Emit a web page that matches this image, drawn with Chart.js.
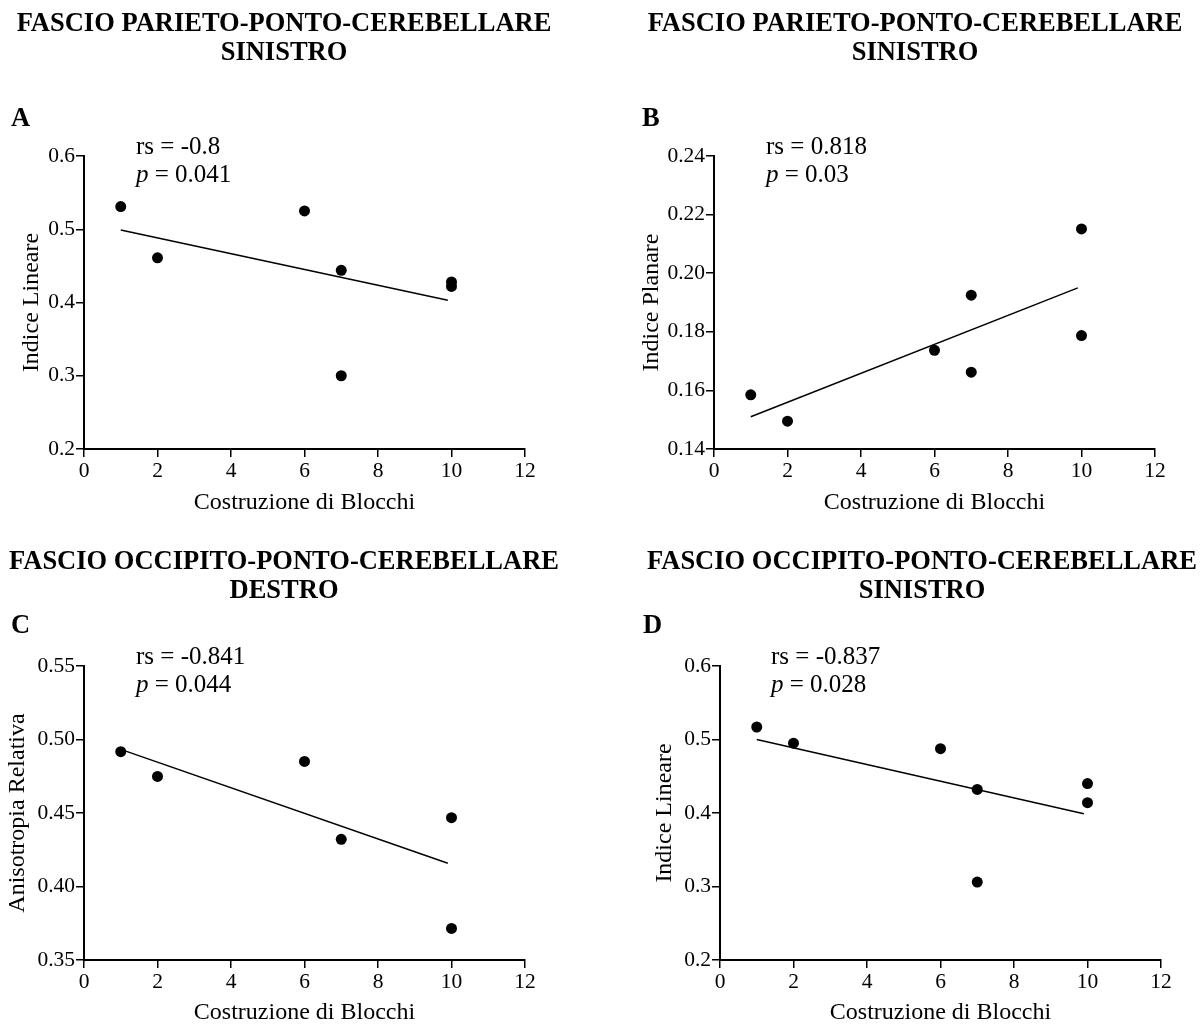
<!DOCTYPE html>
<html>
<head>
<meta charset="utf-8">
<script src="https://cdn.jsdelivr.net/npm/chart.js@4/dist/chart.umd.min.js"></script>
<style>
  html, body { margin: 0; padding: 0; background: #fff; }
  #wrap { position: relative; width: 1203px; height: 1025px; background: #fff; }
  #wrap canvas { position: absolute; left: 0; top: 0; }
</style>
</head>
<body>
<div id="wrap">
  <canvas id="cA" width="1203" height="1025"></canvas>
  <canvas id="cB" width="1203" height="1025"></canvas>
  <canvas id="cC" width="1203" height="1025"></canvas>
  <canvas id="cD" width="1203" height="1025"></canvas>
</div>
<script>
// ---------------- DATA ----------------
const xTicks = [0, 2, 4, 6, 8, 10, 12];
const xTickLabels = ['0', '2', '4', '6', '8', '10', '12'];
const xTitle = 'Costruzione di Blocchi';

// Panel A
const titleA = ['FASCIO PARIETO-PONTO-CEREBELLARE', 'SINISTRO'];
const yTitleA = 'Indice Lineare';
const xA = [1, 2, 6, 7, 7, 10, 10];
const yA = [0.531, 0.461, 0.525, 0.444, 0.300, 0.428, 0.422];
const fitXA = [1, 9.9];
const fitYA = [0.499, 0.403];
const yTicksA = [0.2, 0.3, 0.4, 0.5, 0.6];
const yTickLabelsA = ['0.2', '0.3', '0.4', '0.5', '0.6'];
const statsA = ['rs = -0.8', '0.041'];

// Panel B
const titleB = ['FASCIO PARIETO-PONTO-CEREBELLARE', 'SINISTRO'];
const yTitleB = 'Indice Planare';
const xB = [1, 2, 6, 7, 7, 10, 10];
const yB = [0.1585, 0.1495, 0.1737, 0.1925, 0.1662, 0.2151, 0.1787];
const fitXB = [1, 9.9];
const fitYB = [0.151, 0.195];
const yTicksB = [0.14, 0.16, 0.18, 0.20, 0.22, 0.24];
const yTickLabelsB = ['0.14', '0.16', '0.18', '0.20', '0.22', '0.24'];
const statsB = ['rs = 0.818', '0.03'];

// Panel C
const titleC = ['FASCIO OCCIPITO-PONTO-CEREBELLARE', 'DESTRO'];
const yTitleC = 'Anisotropia Relativa';
const xC = [1, 2, 6, 7, 10, 10];
const yC = [0.4917, 0.4749, 0.4851, 0.4321, 0.4468, 0.3715];
const fitXC = [1, 9.9];
const fitYC = [0.4933, 0.4158];
const yTicksC = [0.35, 0.40, 0.45, 0.50, 0.55];
const yTickLabelsC = ['0.35', '0.40', '0.45', '0.50', '0.55'];
const statsC = ['rs = -0.841', '0.044'];

// Panel D
const titleD = ['FASCIO OCCIPITO-PONTO-CEREBELLARE', 'SINISTRO'];
const yTitleD = 'Indice Lineare';
const xD = [1, 2, 6, 7, 7, 10, 10];
const yD = [0.517, 0.495, 0.4875, 0.432, 0.306, 0.440, 0.414];
const fitXD = [1, 9.9];
const fitYD = [0.500, 0.399];
const yTicksD = [0.2, 0.3, 0.4, 0.5, 0.6];
const yTickLabelsD = ['0.2', '0.3', '0.4', '0.5', '0.6'];
const statsD = ['rs = -0.837', '0.028'];

// ---------------- LAYOUT / STYLE ----------------
const FONT = '"Liberation Serif", "Times New Roman", Times, serif';
const W = 1203, H = 1025;
const AXIS_TITLE_SIZE = 24;
const AXIS_TITLE_HALF = AXIS_TITLE_SIZE * 1.2 / 2;
const TICK_SIZE = 21.5;

const panels = [
  { id: 'cA', letter: 'A', title: titleA, yTitle: yTitleA, xs: xA, ys: yA, fx: fitXA, fy: fitYA,
    yt: yTicksA, ytl: yTickLabelsA, stats: statsA,
    plot: { l: 84, r: 525, t: 156, b: 449 }, padL: 0, ytx: 32, xty: 503,
    tcx: 284, ty1: 24, ty2: 53, lx: 11, ly: 119, ax: 136, ay1: 147, ay2: 175 },
  { id: 'cB', letter: 'B', title: titleB, yTitle: yTitleB, xs: xB, ys: yB, fx: fitXB, fy: fitYB,
    yt: yTicksB, ytl: yTickLabelsB, stats: statsB,
    plot: { l: 714, r: 1155, t: 156, b: 449 }, padL: 620, ytx: 652, xty: 503,
    tcx: 915, ty1: 24, ty2: 53, lx: 642, ly: 119, ax: 766, ay1: 147, ay2: 175 },
  { id: 'cC', letter: 'C', title: titleC, yTitle: yTitleC, xs: xC, ys: yC, fx: fitXC, fy: fitYC,
    yt: yTicksC, ytl: yTickLabelsC, stats: statsC,
    plot: { l: 84, r: 525, t: 666, b: 960 }, padL: 0, ytx: 18, xty: 1013,
    tcx: 284, ty1: 562, ty2: 591, lx: 11, ly: 626, ax: 136, ay1: 657, ay2: 685 },
  { id: 'cD', letter: 'D', title: titleD, yTitle: yTitleD, xs: xD, ys: yD, fx: fitXD, fy: fitYD,
    yt: yTicksD, ytl: yTickLabelsD, stats: statsD,
    plot: { l: 720, r: 1161, t: 666, b: 960 }, padL: 620, ytx: 665, xty: 1013,
    tcx: 922, ty1: 562, ty2: 591, lx: 643, ly: 626, ax: 771, ay1: 657, ay2: 685 }
];

function textPlugin(p) {
  return {
    id: 'panelText' + p.letter,
    afterDraw(chart) {
      const ctx = chart.ctx;
      ctx.save();
      ctx.fillStyle = '#000';
      ctx.textBaseline = 'middle';
      ctx.font = 'bold 26.5px ' + FONT;
      ctx.textAlign = 'center';
      ctx.fillText(p.title[0], p.tcx, p.ty1);
      ctx.fillText(p.title[1], p.tcx, p.ty2);
      ctx.textAlign = 'left';
      ctx.fillText(p.letter, p.lx, p.ly);
      ctx.font = '25px ' + FONT;
      ctx.fillText(p.stats[0], p.ax, p.ay1);
      ctx.font = 'italic 25px ' + FONT;
      ctx.fillText('p', p.ax, p.ay2);
      const w = ctx.measureText('p').width;
      ctx.font = '25px ' + FONT;
      ctx.fillText(' = ' + p.stats[1], p.ax + w, p.ay2);
      ctx.restore();
    }
  };
}

panels.forEach(p => {
  const pts = p.xs.map((x, i) => ({ x: x, y: p.ys[i] }));
  const fit = p.fx.map((x, i) => ({ x: x, y: p.fy[i] }));
  const padBottom = H - (p.xty + AXIS_TITLE_HALF);
  new Chart(document.getElementById(p.id), {
    type: 'scatter',
    data: {
      datasets: [
        { data: pts, showLine: false, pointRadius: 5.5, pointHoverRadius: 5.5,
          backgroundColor: '#000', borderColor: '#000', borderWidth: 0, order: 1 },
        { data: fit, showLine: true, pointRadius: 0, borderColor: '#000',
          borderWidth: 1.5, fill: false, order: 2 }
      ]
    },
    options: {
      responsive: false,
      animation: false,
      devicePixelRatio: 1,
      layout: { padding: { left: p.padL, right: W - p.plot.r, top: p.plot.t, bottom: padBottom } },
      plugins: { legend: { display: false }, tooltip: { enabled: false } },
      scales: {
        x: {
          type: 'linear', position: 'bottom', min: 0, max: 12,
          afterBuildTicks(scale) { scale.ticks = xTicks.map(v => ({ value: v })); },
          afterFit(scale) { scale.height = p.xty + AXIS_TITLE_HALF - p.plot.b; },
          ticks: { color: '#000', font: { family: FONT, size: TICK_SIZE }, padding: 1,
                   maxRotation: 0, autoSkip: false,
                   callback: (v, i) => xTickLabels[i] },
          grid: { display: true, drawOnChartArea: false, drawTicks: true, tickLength: 8,
                  color: '#000', lineWidth: 1.5 },
          border: { display: true, color: '#000', width: 2 },
          title: { display: true, text: xTitle, color: '#000',
                   font: { family: FONT, size: AXIS_TITLE_SIZE }, padding: 0 }
        },
        y: {
          type: 'linear', position: 'left', min: p.yt[0], max: p.yt[p.yt.length - 1],
          afterBuildTicks(scale) { scale.ticks = p.yt.map(v => ({ value: v })); },
          afterFit(scale) { scale.width = p.plot.l - p.padL; },
          ticks: { color: '#000', font: { family: FONT, size: TICK_SIZE }, padding: 1, autoSkip: false,
                   callback: (v, i) => p.ytl[i] },
          grid: { display: true, drawOnChartArea: false, drawTicks: true, tickLength: 8,
                  color: '#000', lineWidth: 1.5 },
          border: { display: true, color: '#000', width: 2 },
          title: { display: true, text: p.yTitle, color: '#000',
                   font: { family: FONT, size: AXIS_TITLE_SIZE },
                   padding: { top: p.ytx - p.padL - AXIS_TITLE_HALF, bottom: 0 } }
        }
      }
    },
    plugins: [textPlugin(p)]
  });
});
</script>
</body>
</html>
